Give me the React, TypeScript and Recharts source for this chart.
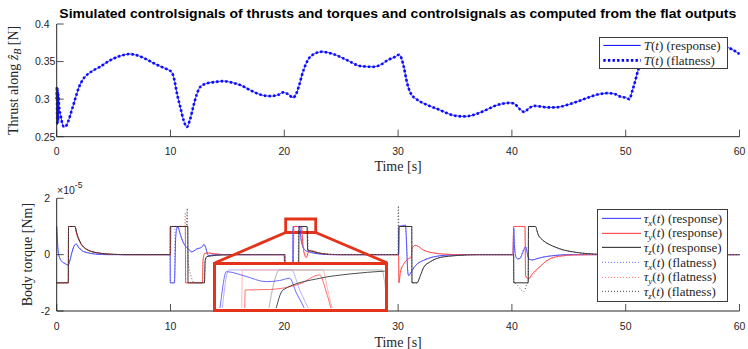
import React from 'react'
import { LineChart, Line, XAxis, YAxis, Legend, ReferenceArea, ReferenceLine } from 'recharts'

type Pt = [number, number]

// thrust along z_B [N], response and flatness overlap
const THRUST: Pt[] = [
  [0, 0.300], [0.02, 0.316], [0.05, 0.266], [0.08, 0.313], [0.11, 0.27], [0.14, 0.306], [0.2, 0.292],
  [0.35, 0.278], [0.5, 0.267], [0.65, 0.263], [0.85, 0.265], [1.0, 0.270], [1.3, 0.284], [1.6, 0.299],
  [1.96, 0.316], [2.3, 0.326], [2.64, 0.332], [3.2, 0.338], [3.8, 0.343], [4.4, 0.349], [5.0, 0.354],
  [5.7, 0.358], [6.45, 0.360], [7.3, 0.357], [7.9, 0.353], [8.5, 0.348], [9.2, 0.343], [9.8, 0.339],
  [10.1, 0.336], [10.3, 0.328], [10.6, 0.305], [10.85, 0.29], [11.15, 0.272], [11.43, 0.263], [11.7, 0.272],
  [12.0, 0.29], [12.3, 0.306], [12.6, 0.316], [13.2, 0.321], [14.0, 0.323], [14.65, 0.324], [15.4, 0.322],
  [16.1, 0.319], [17.0, 0.312], [17.9, 0.306], [18.8, 0.304], [19.5, 0.306], [19.9, 0.309], [20.4, 0.306],
  [20.75, 0.302], [21.1, 0.309], [21.3, 0.318], [21.55, 0.332], [22.0, 0.35], [22.6, 0.36], [23.3, 0.363],
  [24.3, 0.360], [25.5, 0.352], [26.7, 0.344], [27.8, 0.343], [28.5, 0.346], [29.1, 0.352], [29.7, 0.356],
  [30.1, 0.359], [30.3, 0.354], [30.5, 0.343], [30.8, 0.321], [31.1, 0.308], [31.7, 0.299], [32.3, 0.294],
  [32.9, 0.29], [33.6, 0.286], [34.35, 0.281], [35.0, 0.278], [35.8, 0.277], [36.4, 0.278], [37.0, 0.281],
  [37.8, 0.286], [38.5, 0.291], [39.2, 0.294], [39.8, 0.295], [40.2, 0.294], [40.5, 0.29], [40.8, 0.285],
  [41.1, 0.283], [41.5, 0.288], [42.0, 0.291], [42.6, 0.290], [43.15, 0.289], [43.7, 0.289], [44.3, 0.290],
  [45.0, 0.293], [45.8, 0.297], [46.5, 0.301], [47.25, 0.305], [47.8, 0.307], [48.4, 0.308], [49.0, 0.307],
  [49.6, 0.303], [50.0, 0.302], [50.3, 0.300], [50.6, 0.312], [50.85, 0.325], [51.1, 0.339], [51.5, 0.352],
  [52.2, 0.363], [53, 0.371], [54, 0.376], [55, 0.379], [56, 0.379], [57, 0.377], [58, 0.374], [58.6, 0.371],
  [59.1, 0.368], [59.6, 0.364], [60, 0.360],
]

// body torques in units of 1e-5 Nm
const TAU_X_RESP: Pt[] = [
  [0, 1.0], [0.04, 0.7], [0.12, 0.15], [0.25, -0.1], [0.45, -0.24], [0.75, -0.32], [1.02, -0.37], [1.15, -0.22],
  [1.3, 0.02], [1.5, 0.28], [1.7, 0.38], [1.9, 0.27], [2.2, 0.15], [2.7, 0.07], [3.4, 0.02], [4.5, 0],
  [9.97, 0], [9.98, -1], [10.35, -1], [10.45, 0.55], [10.55, 0.93], [10.65, 0.98], [10.8, 0.8], [10.99, 0.56],
  [11.28, 0.32], [11.57, 0.2], [11.87, 0.1], [12.05, 0.13], [12.3, 0.2], [12.73, 0.26], [12.95, 0.36],
  [13.05, 0.3], [13.2, 0.1], [13.35, -0.04], [13.7, -0.01], [14.5, 0],
  [20.0, 0], [20.04, -1], [20.72, -1], [20.78, 1.0], [21.35, 1.0], [21.45, 0.6], [21.55, 0.38], [21.85, 0.15],
  [22.3, 0.08], [23, 0.03], [24, 0],
  [30.04, 0], [30.08, 1.0], [30.5, 1.03], [30.65, 1.05], [30.72, 0.6], [30.85, -0.6], [30.92, -0.74], [31.1, -0.66],
  [31.4, -0.45], [31.7, -0.32], [32.25, -0.2], [33.1, -0.08], [34.6, -0.01], [35.5, 0],
  [40.1, 0], [40.16, 0.95], [40.22, 0.3], [40.35, -0.08], [40.5, -0.15], [40.7, -0.14], [41.0, 0.12], [41.2, 0.28],
  [41.35, 0.05], [41.5, -0.16], [41.8, -0.19], [42.2, -0.14], [42.7, -0.09], [43.8, -0.03], [45, 0], [60, 0],
]
const TAU_Y_RESP: Pt[] = [
  [0, -1], [1.02, -1], [1.04, 1.0], [1.61, 1.0], [1.75, 0.74], [2.05, 0.44], [2.64, 0.18], [3.5, 0.07], [5, 0.01], [6, 0],
  [10.0, 0], [10.03, 1.0], [11.3, 1.0], [11.33, -1], [12.8, -1], [12.86, -0.2], [13.0, 0.04], [13.3, 0.06], [14, 0.02], [15, 0],
  [20.0, 0], [20.04, -1], [20.78, -1], [20.84, 1.0], [21.5, 1.0], [21.65, 0.3], [21.8, -0.03], [21.93, -0.1], [22.1, 0.08],
  [22.3, 0.15], [22.7, 0.1], [23.3, 0.04], [24.5, 0],
  [30.04, 0], [30.07, -1], [30.2, -0.63], [30.5, -0.33], [30.9, -0.15], [31.15, -0.09], [31.22, 0.22], [31.5, 0.33],
  [31.7, 0.31], [32.2, 0.17], [33, 0.07], [34, 0.02], [35.5, 0],
  [40.1, 0], [40.15, 1.0], [41.15, 1.0], [41.2, -0.74], [41.45, -0.86], [41.8, -0.68], [42.4, -0.45], [43.2, -0.18],
  [44.1, -0.06], [45.5, -0.01], [47, 0], [60, 0],
]
const TAU_Z_RESP: Pt[] = [
  [0, -1], [1.02, -1], [1.04, 1.0], [1.61, 1.0], [1.75, 0.78], [2.05, 0.46], [2.64, 0.19], [3.5, 0.07], [5, 0.01], [6, 0],
  [9.97, 0], [9.98, 1.0], [11.52, 1.0], [11.54, -1], [12.98, -1], [13.05, -0.2], [13.2, -0.07], [13.6, -0.04], [14.5, -0.01], [15.5, 0],
  [20.05, 0], [20.07, -1], [21.25, -1], [21.3, 1.0], [22.0, 1.0], [22.05, 0.16], [22.4, 0.12], [23, 0.06], [24, 0.01], [25, 0],
  [30.05, 0], [30.07, 1.0], [31.2, 1.0], [31.22, -1], [31.66, -1], [31.96, -0.74], [32.25, -0.45], [32.84, -0.25],
  [33.7, -0.1], [35.2, -0.03], [37, 0],
  [40.15, 0], [40.17, -1], [41.43, -1], [41.46, 1.0], [42.07, 1.0], [42.3, 0.72], [42.7, 0.52], [43.2, 0.38], [43.8, 0.27],
  [44.5, 0.17], [45.5, 0.09], [46.5, 0.04], [48, 0.01], [50, 0], [60, 0],
]
const TAU_X_FLAT: Pt[] = [
  [0, 1.0], [0.04, 0.7], [0.12, 0.15], [0.25, -0.1], [0.45, -0.24], [0.75, -0.32], [1.02, -0.37], [1.3, 0.02], [1.5, 0.28],
  [1.7, 0.38], [2.2, 0.15], [2.7, 0.07], [3.4, 0.02], [4.5, 0],
  [9.97, 0], [9.98, -1], [10.33, -1], [10.4, 0.95], [10.65, 0.98], [10.99, 0.56], [11.28, 0.32], [11.57, 0.2], [11.87, 0.1],
  [12.3, 0.2], [12.73, 0.26], [12.95, 0.36], [13.2, 0.1], [13.35, -0.04], [14.5, 0],
  [20.0, 0], [20.04, -1], [20.7, -1], [20.76, 1.0], [21.4, 1.0], [21.55, 0.38], [21.85, 0.15], [22.3, 0.08], [24, 0],
  [30.04, 0], [30.08, 1.0], [30.65, 1.05], [30.85, -0.6], [30.92, -0.74], [31.4, -0.45], [32.25, -0.2], [33.1, -0.08], [35.5, 0],
  [40.1, 0], [40.16, 0.95], [40.35, -0.08], [40.6, -0.15], [41.2, 0.28], [41.5, -0.16], [41.8, -0.19], [42.7, -0.09], [45, 0], [60, 0],
]
const TAU_Y_FLAT: Pt[] = [
  [0, -1], [1.02, -1], [1.04, 1.0], [1.61, 1.0], [1.75, 0.74], [2.05, 0.44], [2.64, 0.18], [3.5, 0.07], [5, 0.01], [6, 0],
  [10.0, 0], [10.03, 1.0], [11.25, 1.0], [11.3, 1.5], [11.35, -1], [12.78, -1], [12.86, -0.2], [13.0, 0.04], [13.3, 0.06], [15, 0],
  [20.0, 0], [20.04, -1], [20.76, -1], [20.82, 1.0], [21.55, 1.0], [21.7, 0.2], [21.93, -0.1], [22.3, 0.15], [23.3, 0.04], [24.5, 0],
  [30.04, 0], [30.07, -1], [30.2, -0.63], [30.5, -0.33], [30.9, -0.15], [31.15, -0.09], [31.22, 0.22], [31.5, 0.33],
  [32.2, 0.17], [33, 0.07], [35.5, 0],
  [40.1, 0], [40.15, 1.0], [41.15, 1.0], [41.2, -0.74], [41.45, -0.86], [42.4, -0.45], [43.2, -0.18], [45.5, -0.01], [47, 0], [60, 0],
]
const TAU_Z_FLAT: Pt[] = [
  [0, -1], [1.02, -1], [1.04, 1.0], [1.61, 1.0], [1.75, 0.78], [2.05, 0.46], [2.64, 0.19], [3.5, 0.07], [6, 0],
  [9.97, 0], [9.98, 1.0], [11.4, 1.0], [11.47, 1.65], [11.55, -0.2], [11.8, -0.75], [12.1, -1], [12.98, -1], [13.05, -0.2],
  [13.2, -0.07], [15.5, 0],
  [20.05, 0], [20.07, -1], [21.2, -1], [21.26, 1.0], [22.05, 1.0], [22.1, 0.16], [22.4, 0.12], [23, 0.06], [25, 0],
  [29.98, 0], [30.02, 1.73], [30.07, 1.0], [31.2, 1.0], [31.22, -1], [31.66, -1], [31.96, -0.74], [32.25, -0.45],
  [32.84, -0.25], [33.7, -0.1], [37, 0],
  [40.15, 0], [40.17, -1], [40.3, -1.02], [41.05, -1.31], [41.35, -1.02], [41.43, -1], [41.46, 1.0], [42.07, 1.0],
  [42.3, 0.72], [42.7, 0.52], [43.2, 0.38], [43.8, 0.27], [44.5, 0.17], [45.5, 0.09], [46.5, 0.04], [50, 0], [60, 0],
]

// zoomed detail shown in the inset (same units)
const INSET_X_RESP: Pt[] = [[20.929, 0.925], [20.941, 0.94], [20.996, 0.9953], [21.023, 0.9949], [21.146, 0.9891], [21.323, 0.9809], [21.432, 0.9826], [21.514, 0.9858], [21.569, 0.9646], [21.621, 0.9472], [21.662, 0.933]]
const INSET_X_FLAT: Pt[] = [[20.957, 0.933], [21.015, 0.9978], [21.528, 0.9978], [21.596, 0.9689], [21.694, 0.933]]
const INSET_Y_RESP: Pt[] = [[21.146, 0.933], [21.15, 0.9689], [21.35, 0.9696], [21.596, 0.9776], [21.76, 0.9906], [21.809, 0.9689], [21.866, 0.933]]
const INSET_Y_FLAT: Pt[] = [[21.121, 0.933], [21.127, 0.9978], [21.785, 0.9978], [21.826, 0.9689], [21.875, 0.933]]
const INSET_Z_RESP: Pt[] = [[21.391, 0.933], [21.459, 0.9689], [21.76, 0.9858], [22.006, 0.992], [22.3, 0.9963]]
const INSET_Z_FLAT: Pt[] = [[21.334, 0.933], [21.432, 0.9978], [22.268, 0.9978], [22.309, 0.9545]]

const TIME_TICKS = [0, 10, 20, 30, 40, 50, 60]
const THRUST_TICKS = [0.25, 0.3, 0.35, 0.4]
const TORQUE_TICKS = [-2, 0, 2]

// zoom box and connectors, in data coordinates of the torque axes
const ZOOM_BOX = { x1: 20.12, x2: 22.76, y1: 0.786, y2: 1.265 }
const ZOOM_LINKS: [Pt, Pt][] = [
  [[20.12, 0.786], [13.92, -0.29]],
  [[22.76, 0.786], [29.02, -0.29]],
]
const INSET_X_DOMAIN: Pt = [20.911, 22.292]
const INSET_Y_DOMAIN: Pt = [0.9423, 1.005]

const INK = '#262626'
const RED = '#e4321b'
const SANS = '"Liberation Sans", Arial, Helvetica, sans-serif'
const SERIF = '"Liberation Serif", "Times New Roman", serif'

const rows = (pts: Pt[]) => pts.map(([t, v]) => ({ t, v }))

const TORQUE_SERIES = [
  { key: 'xr', data: TAU_X_RESP, color: '#3030ff', dash: undefined as string | undefined, axis: 'x', kind: 'response' },
  { key: 'yr', data: TAU_Y_RESP, color: '#ff3030', dash: undefined, axis: 'y', kind: 'response' },
  { key: 'zr', data: TAU_Z_RESP, color: '#1c1c1c', dash: undefined, axis: 'z', kind: 'response' },
  { key: 'xf', data: TAU_X_FLAT, color: '#6b6bff', dash: '1 2', axis: 'x', kind: 'flatness' },
  { key: 'yf', data: TAU_Y_FLAT, color: '#ff6b6b', dash: '1 2', axis: 'y', kind: 'flatness' },
  { key: 'zf', data: TAU_Z_FLAT, color: '#444444', dash: '1 2', axis: 'z', kind: 'flatness' },
]

const INSET_SERIES = [
  { key: 'ixf', data: INSET_X_FLAT, color: '#a9a9ff' },
  { key: 'iyf', data: INSET_Y_FLAT, color: '#ffb0b0' },
  { key: 'izf', data: INSET_Z_FLAT, color: '#a8a8a8' },
  { key: 'ixr', data: INSET_X_RESP, color: '#5a5aff' },
  { key: 'iyr', data: INSET_Y_RESP, color: '#ff5a5a' },
  { key: 'izr', data: INSET_Z_RESP, color: '#3a3a3a' },
]

function XTick(props: any) {
  const { x, y, payload } = props
  return (
    <g>
      <line x1={x} x2={x} y1={y} y2={y - 7} stroke={INK} strokeWidth={0.8} />
      <text x={x} y={y + 18.6} textAnchor="middle" fill={INK} fontSize={10.5} fontFamily={SANS}>{payload.value}</text>
    </g>
  )
}

function YTick(props: any) {
  const { x, y, payload, anchor, dx } = props
  return (
    <g>
      <line x1={x} x2={x + 7} y1={y} y2={y} stroke={INK} strokeWidth={0.8} />
      <text x={x + dx} y={y + 3.8} textAnchor={anchor} fill={INK} fontSize={10.5} fontFamily={SANS}>{payload.value}</text>
    </g>
  )
}

type LegendItem = { key: string; label: React.ReactNode; color: string; width: number; dash?: string }

function LegendBox({ items, width, height, rowH, padTop, lineFrom, lineTo }: {
  items: LegendItem[]; width: number; height: number; rowH: number; padTop: number; lineFrom: number; lineTo: number
}) {
  return (
    <div style={{ width, height, boxSizing: 'border-box', border: '1px solid #3c3c3c', background: '#fff', paddingTop: padTop }}>
      {items.map(it => (
        <div key={it.key} style={{ height: rowH, display: 'flex', alignItems: 'center' }}>
          <svg width={lineTo + 3} height={rowH} style={{ flex: 'none', display: 'block' }}>
            <line x1={lineFrom} x2={lineTo} y1={rowH / 2} y2={rowH / 2} stroke={it.color} strokeWidth={it.width} strokeDasharray={it.dash} />
          </svg>
          <span style={{ fontFamily: SERIF, fontSize: 13, color: INK, whiteSpace: 'nowrap', lineHeight: 1 }}>{it.label}</span>
        </div>
      ))}
    </div>
  )
}

const thrustLabel = (kind: string) => (
  <><i>T</i>(<i>t</i>) ({kind})</>
)
const torqueLabel = (axis: string, kind: string) => (
  <><i>τ</i><i style={{ fontSize: 9, position: 'relative', top: 3 }}>{axis}</i>(<i>t</i>) ({kind})</>
)

const THRUST_LEGEND: LegendItem[] = [
  { key: 'r', label: thrustLabel('response'), color: '#0000ff', width: 1 },
  { key: 'f', label: thrustLabel('flatness'), color: '#0000ff', width: 2.6, dash: '2.4 2.2' },
]
const TORQUE_LEGEND: LegendItem[] = TORQUE_SERIES.map(s => ({
  key: s.key, label: torqueLabel(s.axis, s.kind), color: s.color, width: 1, dash: s.dash,
}))

const yTitle = (x: number, node: React.ReactNode) => (props: any) => {
  const vb = props.viewBox || { y: 0, height: 0 }
  const cy = vb.y + vb.height / 2
  return (
    <text transform={`translate(${x},${cy}) rotate(-90)`} textAnchor="middle" fill={INK} fontSize={14} fontFamily={SERIF}>
      {node}
    </text>
  )
}

export default function App() {
  return (
    <div style={{ position: 'absolute', left: 0, top: 0, width: 748, height: 349, background: '#fff', overflow: 'hidden' }}>
      <svg width={748} height={349} style={{ position: 'absolute', left: 0, top: 0 }}>
        <text x={59.3} y={18} fontFamily={SANS} fontWeight="bold" fontSize={13} fill="#000" textLength={677} lengthAdjust="spacingAndGlyphs">
          Simulated controlsignals of thrusts and torques and controlsignals as computed from the flat outputs
        </text>
        <text x={57} y={193.5} fontFamily={SANS} fontSize={10.5} fill={INK}>
          ×10<tspan dy={-5.5} fontSize={8.5}>-5</tspan>
        </text>
      </svg>

      <div style={{ position: 'absolute', left: 0, top: 0 }}>
        <LineChart width={748} height={175} margin={{ top: 24, right: 8.5, bottom: 0, left: 0 }}>
          <XAxis type="number" dataKey="t" domain={[0, 60]} ticks={TIME_TICKS} interval={0} height={38.3}
            tickLine={false} tickSize={0} tickMargin={0} axisLine={{ stroke: INK }} tick={<XTick />}
            label={{ value: 'Time [s]', position: 'insideBottom', offset: 3.7, fill: INK, fontSize: 14, fontFamily: SERIF }} />
          <YAxis type="number" domain={[0.25, 0.4]} ticks={THRUST_TICKS} interval={0} width={56.7}
            tickLine={false} tickSize={0} tickMargin={0} axisLine={{ stroke: INK }}
            tick={(p: any) => <YTick {...p} anchor="start" dx={-21.7} />}
            label={{ content: yTitle(17.5, <>Thrust along <tspan fontStyle="italic">ẑ</tspan><tspan fontStyle="italic" fontSize={10} dy={3}>B</tspan><tspan dy={-3}> [N]</tspan></>) }} />
          <Legend layout="vertical" align="center" verticalAlign="middle"
            wrapperStyle={{ left: 599, top: 37, width: 129 }}
            content={() => <LegendBox items={THRUST_LEGEND} width={129} height={32} rowH={14.8} padTop={0} lineFrom={3.3} lineTo={40.7} />} />
          <Line data={rows(THRUST)} dataKey="v" type="monotone" stroke="#0000ff" strokeWidth={0.8} dot={false} isAnimationActive={false} />
          <Line data={rows(THRUST)} dataKey="v" type="monotone" stroke="#0a0aff" strokeWidth={2.6} strokeDasharray="2.4 2.2" dot={false} isAnimationActive={false} />
        </LineChart>
      </div>

      <div style={{ position: 'absolute', left: 0, top: 175 }}>
        <LineChart width={748} height={175} margin={{ top: 23.3, right: 8.5, bottom: 0, left: 0 }}>
          <XAxis type="number" dataKey="t" domain={[0, 60]} ticks={TIME_TICKS} interval={0} height={39}
            tickLine={false} tickSize={0} tickMargin={0} axisLine={{ stroke: INK }} tick={<XTick />}
            label={{ value: 'Time [s]', position: 'insideBottom', offset: 3.5, fill: INK, fontSize: 14, fontFamily: SERIF }} />
          <YAxis type="number" domain={[-2, 2]} ticks={TORQUE_TICKS} interval={0} width={56.7}
            tickLine={false} tickSize={0} tickMargin={0} axisLine={{ stroke: INK }}
            tick={(p: any) => <YTick {...p} anchor="end" dx={-6.7} />}
            label={{ content: yTitle(31.5, <>Body torque [Nm]</>) }} />
          <Legend layout="vertical" align="center" verticalAlign="middle"
            wrapperStyle={{ left: 596.7, top: 34, width: 131.6 }}
            content={() => <LegendBox items={TORQUE_LEGEND} width={131.6} height={93} rowH={14.66} padTop={1} lineFrom={4} lineTo={43} />} />
          {TORQUE_SERIES.map(s => (
            <Line key={s.key} data={rows(s.data)} dataKey="v" type="monotone" stroke={s.color} strokeWidth={0.9}
              strokeDasharray={s.dash} dot={false} isAnimationActive={false} />
          ))}
          <ReferenceArea x1={ZOOM_BOX.x1} x2={ZOOM_BOX.x2} y1={ZOOM_BOX.y1} y2={ZOOM_BOX.y2}
            stroke={RED} strokeWidth={2.8} fill="#fff" fillOpacity={0} />
          {ZOOM_LINKS.map(([a, b], i) => (
            <ReferenceLine key={i} segment={[{ x: a[0], y: a[1] }, { x: b[0], y: b[1] }]} stroke={RED} strokeWidth={2.8} />
          ))}
        </LineChart>
      </div>

      <div style={{ position: 'absolute', left: 213, top: 261.7, width: 175.3, height: 50, boxSizing: 'border-box', border: `3.3px solid ${RED}`, background: '#fff' }}>
        <LineChart width={168.7} height={43.4} margin={{ top: 0, right: 0, bottom: 0, left: 0 }}>
          <XAxis type="number" dataKey="t" domain={INSET_X_DOMAIN} allowDataOverflow hide />
          <YAxis type="number" domain={INSET_Y_DOMAIN} allowDataOverflow hide />
          {INSET_SERIES.map(s => (
            <Line key={s.key} data={rows(s.data)} dataKey="v" type="monotone" stroke={s.color} strokeWidth={0.9}
              dot={false} isAnimationActive={false} />
          ))}
        </LineChart>
      </div>
    </div>
  )
}
